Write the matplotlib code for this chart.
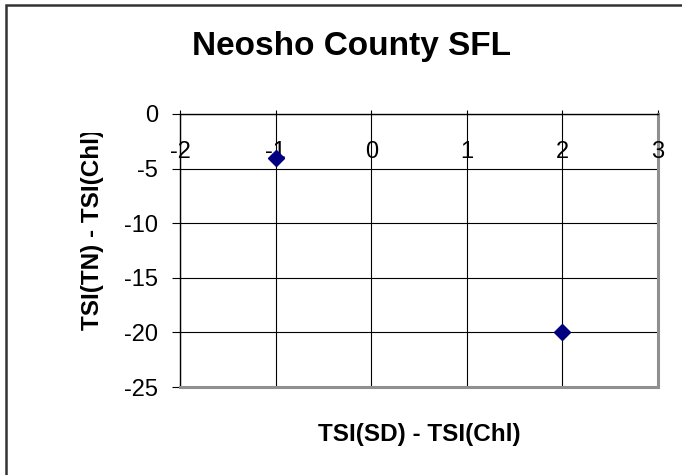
import matplotlib
matplotlib.use("Agg")
import matplotlib.pyplot as plt
from matplotlib.patches import Rectangle
from matplotlib.transforms import blended_transform_factory, offset_copy, Bbox

plt.rcParams['font.family'] = ['Liberation Sans', 'DejaVu Sans']
plt.rcParams['axes.unicode_minus'] = False

title = "Neosho County SFL"
xlabel = "TSI(SD) - TSI(Chl)"
ylabel = "TSI(TN) - TSI(Chl)"
x_vals = [-1, 2]
y_vals = [-4, -20]
x_ticks = [-2, -1, 0, 1, 2, 3]
y_ticks = [0, -5, -10, -15, -20, -25]

W, H = 682, 475
fig = plt.figure(figsize=(W / 100, H / 100), dpi=100)
fig.patch.set_facecolor('white')

# outer chart border (left/top visible)
fig.patches.append(Rectangle((6 / W, -0.05), 1.2, 1 - 5 / H + 0.05,
                             transform=fig.transFigure, fill=False,
                             edgecolor='#333333', linewidth=1.8))

left, right, top, bottom = 180, 658, 114, 387
ax = fig.add_axes([left / W, 1 - bottom / H, (right - left) / W, (bottom - top) / H])
ax.set_xlim(-2, 3)
ax.set_ylim(-25, 0)

ax.set_xticks(x_ticks)
ax.set_yticks(y_ticks)
ax.grid(True, color='black', linewidth=0.8)
ax.set_axisbelow(True)

for s in ['right', 'bottom']:
    ax.spines[s].set_color('#909090')
    ax.spines[s].set_linewidth(2.2)
for s in ['left', 'top']:
    ax.spines[s].set_color('black')
    ax.spines[s].set_linewidth(1.0)

ax.tick_params(axis='y', direction='out', length=6, width=0.8, labelsize=17, pad=10)
ax.tick_params(axis='x', which='both', bottom=False, top=True, direction='out',
               length=3, width=0.8, labelbottom=False, labeltop=False)

trans = blended_transform_factory(ax.transData, ax.transAxes)
trans = offset_copy(trans, fig=fig, x=0, y=-38, units='dots')
for t in x_ticks:
    ax.text(t, 1, f"{t:g}", transform=trans, ha='center', va='center', fontsize=17)

ax.plot(x_vals, y_vals, linestyle='none', marker='D', markersize=8,
        color='#000080', markeredgecolor='#000080', zorder=5, clip_on=False)

fig.text(352 / W, 1 - 55 / H, title, ha='center', va='baseline', fontsize=24, fontweight='bold')
fig.text(419 / W, 1 - 441 / H, xlabel, ha='center', va='baseline', fontsize=17.5, fontweight='bold')
yl = fig.text(93 / W, 1 - 330 / H, ylabel, ha='left', va='center', fontsize=17.5,
              fontweight='bold', rotation=90, rotation_mode='anchor')
yl.set_clip_on(True)
yl.set_clip_box(Bbox.from_extents(0, 0, W, H - 133))

fig.savefig("out.png", dpi=100, facecolor='white')
